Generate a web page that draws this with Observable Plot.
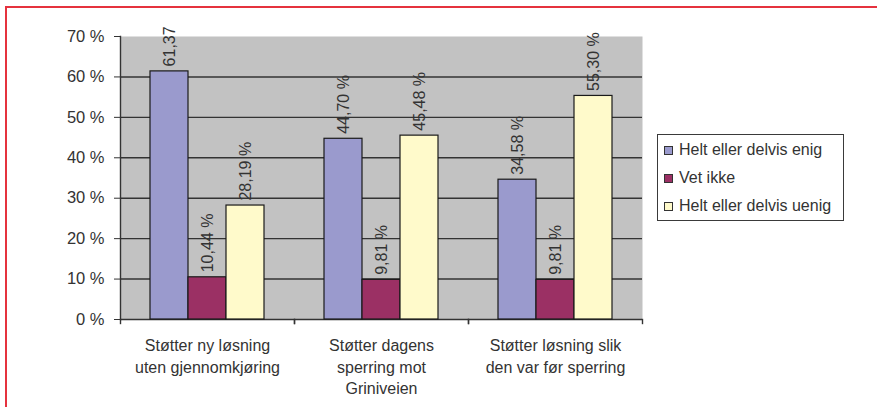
<!DOCTYPE html>
<html>
<head>
<meta charset="utf-8">
<script src="https://cdn.jsdelivr.net/npm/d3@7"></script>
<script src="https://cdn.jsdelivr.net/npm/@observablehq/plot@0.6"></script>
<style>
  html, body { margin: 0; padding: 0; background: #fff; }
  #wrap { position: relative; width: 877px; height: 407px; overflow: hidden; font-family: "Liberation Sans", Arial, sans-serif; }
  #border { position: absolute; left: 5px; top: 6px; right: -4px; bottom: -4px; border-top: 2px solid #e5323e; border-left: 2px solid #e5323e; pointer-events: none; z-index: 3; }
  #legend { position: absolute; left: 657px; top: 134px; width: 185px; padding-top: 1px; border: 1.5px solid #3a3a3a; background: #fff; z-index: 2; }
  .item { height: 28px; display: flex; align-items: center; font-size: 16px; color: #333; white-space: nowrap; }
  .sw { width: 7px; height: 7px; border: 1px solid #333; margin-left: 6px; margin-right: 6px; flex: none; }
</style>
</head>
<body>
<div id="wrap"><div id="border"></div></div>
<script>
// ---- data ----
const categories = [
  "Støtter ny løsning\nuten gjennomkjøring",
  "Støtter dagens\nsperring mot\nGriniveien",
  "Støtter løsning slik\nden var før sperring"
];
const series = ["Helt eller delvis enig", "Vet ikke", "Helt eller delvis uenig"];
const enig = [61.37, 44.70, 34.58];
const vetIkke = [10.44, 9.81, 9.81];
const uenig = [28.19, 45.48, 55.30];
const enigLabels = ["61,37", "44,70 %", "34,58 %"];
const vetIkkeLabels = ["10,44 %", "9,81 %", "9,81 %"];
const uenigLabels = ["28,19 %", "45,48 %", "55,30 %"];
const yTicks = [0, 10, 20, 30, 40, 50, 60, 70];
const yTickLabels = ["0 %", "10 %", "20 %", "30 %", "40 %", "50 %", "60 %", "70 %"];
const colors = ["#9a9acd", "#9b3064", "#fffacb"];

// ---- table ----
const valuesBySeries = [enig, vetIkke, uenig];
const labelsBySeries = [enigLabels, vetIkkeLabels, uenigLabels];
const rows = [];
categories.forEach((c, i) => {
  series.forEach((s, j) => {
    rows.push({category: c, series: s, value: valuesBySeries[j][i], label: labelsBySeries[j][i]});
  });
});

const chart = Plot.plot({
  width: 877,
  height: 407,
  marginLeft: 119,
  marginRight: 234,
  marginTop: 36,
  marginBottom: 88,
  style: {fontFamily: "'Liberation Sans', Arial, sans-serif", fontSize: "16px", color: "#333", background: "transparent", overflow: "visible"},
  fx: {domain: categories, padding: 0, label: null},
  x: {domain: series, paddingInner: 0, paddingOuter: 0.76, axis: null},
  y: {domain: [0, 70], label: null},
  color: {domain: series, range: colors},
  marks: [
    Plot.frame({fill: "#c2c2c2", stroke: "none", facet: "super"}),
    Plot.ruleY(yTicks.slice(0, -1), {stroke: "#333", strokeWidth: 1.4}),
    Plot.frame({anchor: "left", stroke: "#333", strokeWidth: 1.4, facet: "super"}),
    Plot.frame({anchor: "left", stroke: "#333", strokeWidth: 1.4, insetTop: 283, insetBottom: -4}),
    Plot.frame({anchor: "right", stroke: "#333", strokeWidth: 1.4, insetTop: 283, insetBottom: -4}),
    Plot.barY(rows, {fx: "category", x: "series", y: "value", fill: "series", stroke: "#1a1a1a", strokeWidth: 1.2}),
    Plot.text(rows, {fx: "category", x: "series", y: "value", text: "label", rotate: -90, textAnchor: "start", dy: -5, fill: "#333", fontSize: 16}),
    Plot.axisY({ticks: yTicks, tickFormat: (d) => yTickLabels[yTicks.indexOf(d)], tickSize: 6, tickPadding: 10, stroke: "#333", fontSize: 16.5, label: null}),
    Plot.axisFx({anchor: "bottom", tickSize: 0, tickPadding: 16, lineHeight: 1.36, fontSize: 16, label: null})
  ]
});

const wrap = document.getElementById("wrap");
wrap.appendChild(chart);

// legend
const legend = document.createElement("div");
legend.id = "legend";
series.forEach((s, j) => {
  const item = document.createElement("div");
  item.className = "item";
  const sw = document.createElement("span");
  sw.className = "sw";
  sw.style.background = colors[j];
  const t = document.createElement("span");
  t.textContent = s;
  item.appendChild(sw);
  item.appendChild(t);
  legend.appendChild(item);
});
wrap.appendChild(legend);
</script>
</body>
</html>
